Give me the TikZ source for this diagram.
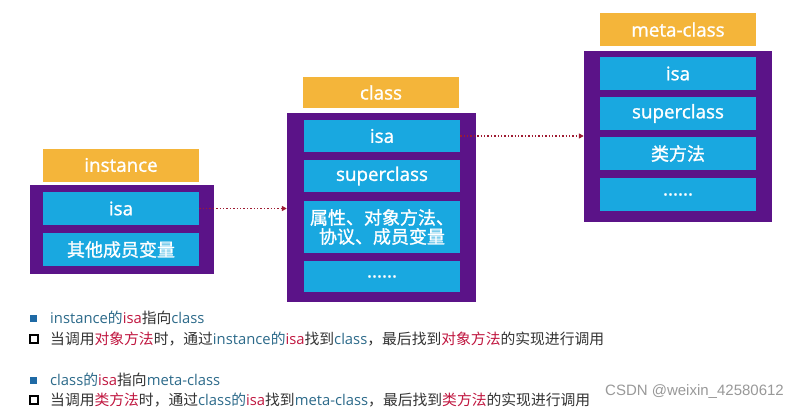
\documentclass[tikz,border=0pt]{standalone}
\usepackage{fontspec}
\setmainfont{Noto Sans CJK SC}
\newfontfamily\latinfont{Open Sans}
\newfontfamily\boldlatin{Open Sans}[FakeBold=1.2]
\newfontfamily\boldcjk{Noto Sans CJK SC}[FakeBold=1.2]
\newfontfamily\markfont{Liberation Sans}
\usetikzlibrary{arrows.meta}
\definecolor{LabelYellow}{HTML}{F4B53A}
\definecolor{BoxPurple}{HTML}{5B1388}
\definecolor{FieldBlue}{HTML}{19A8E0}
\definecolor{PtrRed}{HTML}{9E1B32}
\definecolor{KeyRed}{HTML}{C0163F}
\definecolor{NameTeal}{HTML}{2C6A8A}
\definecolor{PlainText}{HTML}{333333}
\definecolor{BulletBlue}{HTML}{1F6AA5}
\newcommand{\fieldw}{156pt}
\newcommand{\fieldh}{33pt}
\newcommand{\boxlatin}{\boldlatin\fontsize{18.8}{22}\selectfont}
\newcommand{\boxcjk}{\boldcjk\fontsize{18}{22}\selectfont}
\newcommand{\notefont}{\fontsize{14.8}{17}\selectfont}
\newcommand{\lt}[1]{{\latinfont #1}}
\newcommand{\nm}[1]{\textcolor{NameTeal}{#1}}
\newcommand{\kw}[1]{\textcolor{KeyRed}{#1}}

\begin{document}
\begin{tikzpicture}[x=1pt,y=-1pt,
    namebar/.style={fill=LabelYellow,text=white,minimum width=\fieldw,
      minimum height=33pt,inner sep=0pt,font=\boxlatin},
    objbox/.style={fill=BoxPurple,inner sep=0pt},
    fieldbox/.style={fill=FieldBlue,text=white,minimum width=\fieldw,
      minimum height=\fieldh,inner sep=0pt,font=\boxlatin,align=center},
    cjkfield/.style={fieldbox,font=\boxcjk},
    ptr/.style={PtrRed,line width=1.4pt,dotted,
      -{Triangle[length=5pt,width=5pt]}},
    note/.style={anchor=west,inner sep=0pt,text=PlainText,font=\notefont}]
    \useasboundingbox (0,0) rectangle (796,412);
    \fill[white] (0,0) rectangle (796,412);

    % instance part
    \node[namebar] (instlabel) at (121,165) {instance};
    \node[objbox,minimum width=184pt,minimum height=89pt] (instbox) at (122,229.5) {};
    \node[fieldbox] (instisa) at (121,208.5) {isa};
    \node[cjkfield] (instvars) at (121,249.5) {其他成员变量};

    % class part
    \node[namebar,minimum height=31pt] (clslabel) at (381,92.5) {class};
    \node[objbox,minimum width=189pt,minimum height=189pt] (clsbox) at (381.5,207.5) {};
    \node[fieldbox,minimum height=32pt] (clsisa) at (382,136) {isa};
    \node[fieldbox,minimum height=32pt] (clssuper) at (382,176) {superclass};
    \node[cjkfield,minimum height=52pt] (clsmethods) at (382,227)
      {属性、对象方法、\\[-3pt]协议、成员变量};
    \node[fieldbox,minimum height=31pt] (clsmore) at (382,276.5) {......};

    % meta-class part
    \node[namebar] (metalabel) at (678,29.5) {meta-class};
    \node[objbox,minimum width=188pt,minimum height=171pt] (metabox) at (678,136.5) {};
    \node[fieldbox] (metaisa) at (678,73.5) {isa};
    \node[fieldbox] (metasuper) at (678,113.5) {superclass};
    \node[cjkfield] (metamethods) at (678,153.5) {类方法};
    \node[fieldbox] (metamore) at (678,194.5) {......};

    % isa pointers
    \draw[ptr] (instisa.east) -- (instisa.east -| clsbox.west);
    \draw[ptr] (clsisa.east) -- (clsisa.east -| metabox.west);

    % notes
    \node[fill=BulletBlue,minimum size=7pt,inner sep=0pt] (bulA) at (33,318) {};
    \node[draw=black,line width=1.5pt,minimum size=8pt,inner sep=0pt] (bulB) at (34,339) {};
    \node[fill=BulletBlue,minimum size=7pt,inner sep=0pt] (bulC) at (33,380) {};
    \node[draw=black,line width=1.5pt,minimum size=8pt,inner sep=0pt] (bulD) at (34,400) {};
    \node[note] (lineA) at (50,318) {\nm{\lt{instance}的}\kw{\lt{isa}}指向\nm{\lt{class}}};
    \node[note] (lineB) at (50,339)
      {当调用\kw{对象方法}时，通过\nm{\lt{instance}的}\kw{\lt{isa}}找到\nm{\lt{class}}，最后找到\kw{对象方法}的实现进行调用};
    \node[note] (lineC) at (50,380) {\nm{\lt{class}的}\kw{\lt{isa}}指向\nm{\lt{meta-class}}};
    \node[note] (lineD) at (50,400)
      {当调用\kw{类方法}时，通过\nm{\lt{class}的}\kw{\lt{isa}}找到\nm{\lt{meta-class}}，最后找到\kw{类方法}的实现进行调用};
    \node[anchor=west,inner sep=0pt,text=black!40,font=\markfont\fontsize{15}{17}\selectfont]
      (mark) at (605,392) {CSDN @weixin\_42580612};
  \end{tikzpicture}
\end{document}
